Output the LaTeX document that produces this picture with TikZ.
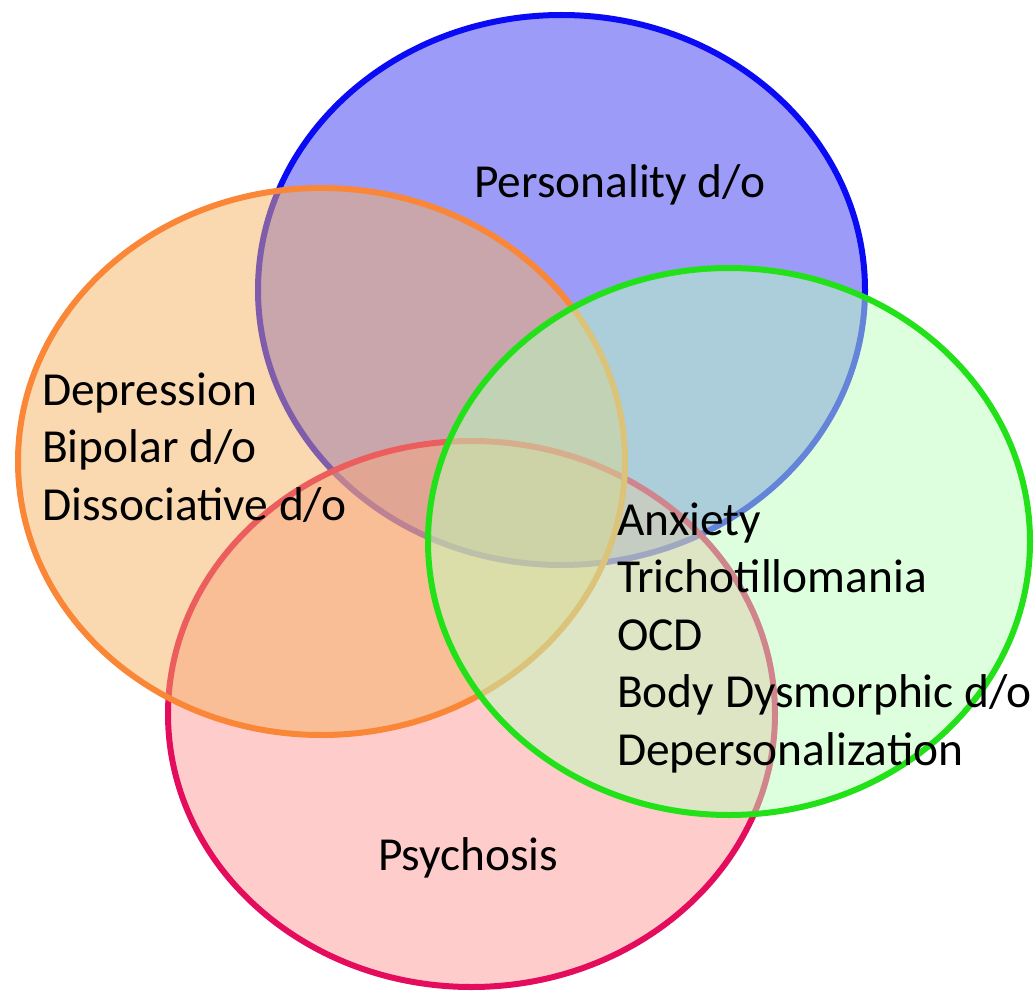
\documentclass[tikz,border=0pt]{standalone}
\usepackage{fontspec}
\setmainfont{Carlito}
\usepackage{tikz}
\usetikzlibrary{shapes.geometric}

\definecolor{blueline}{RGB}{10,10,245}
\definecolor{bluefill}{RGB}{57,57,241}
\definecolor{orangeline}{RGB}{250,135,55}
\definecolor{orangefill}{RGB}{245,177,97}
\definecolor{redline}{RGB}{228,12,92}
\definecolor{redfill}{RGB}{255,153,153}
\definecolor{greenline}{RGB}{35,225,25}
\definecolor{greenfill}{RGB}{189,255,189}

\tikzset{
  set/.style={ellipse, line width=6pt, fill opacity=0.5, inner sep=0pt},
  label/.style={align=left, inner sep=0pt, anchor=base west,
    font=\fontsize{47.4}{57.5}\selectfont}
}

\begin{document}
\begin{tikzpicture}[x=1pt,y=-1pt]
\useasboundingbox (0,0) rectangle (1036,995);
% Sets
\node[set, draw=blueline, fill=bluefill, minimum width=607pt, minimum height=550pt] (personality) at (561.5,290) {};
\node[set, draw=redline, fill=redfill, minimum width=607pt, minimum height=546pt] (psychosis) at (471.5,714) {};
\node[set, draw=orangeline, fill=orangefill, minimum width=607pt, minimum height=547pt] (mood) at (321.5,461.5) {};
\node[set, draw=greenline, fill=greenfill, minimum width=602pt, minimum height=547pt] (anxiety) at (729,541.5) {};

% Labels (base = last line)
\node[label] (personalitytext) at (474,198) {Personality d/o};
\node[label] (moodtext) at (42,520) {Depression\\Bipolar d/o\\Dissociative d/o};
\node[label] (anxietytext) at (617,765) {Anxiety\\Trichotillomania\\OCD\\Body Dysmorphic d/o\\Depersonalization};
\node[label] (psychosistext) at (378,870) {Psychosis};
\end{tikzpicture}
\end{document}
